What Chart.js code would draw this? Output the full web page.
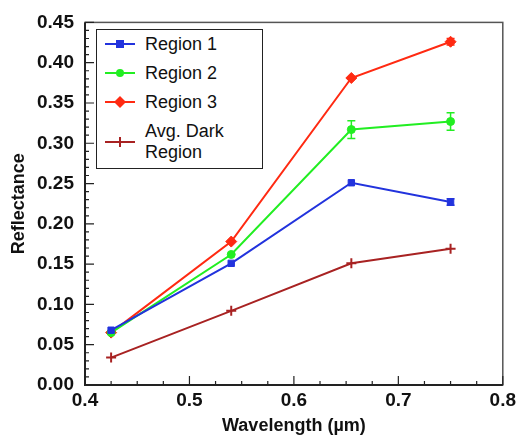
<!DOCTYPE html>
<html>
<head>
<meta charset="utf-8">
<script src="https://cdn.jsdelivr.net/npm/chart.js@4"></script>
<style>
  html, body { margin:0; padding:0; background:#fff; }
  #wrap { position:relative; width:520px; height:438px; font-family:"Liberation Sans", Arial, sans-serif; }
  #legend { position:absolute; left:96px; top:29px; width:165px; height:138px; border:1px solid #222; background:#fff; }
  .row { position:absolute; left:8px; font-size:18px; line-height:21px; color:#111; }
  .row svg { position:absolute; left:0; }
  .row span { position:absolute; left:40px; white-space:nowrap; }
</style>
</head>
<body>
<div id="wrap">
  <canvas id="chart" width="520" height="438"></canvas>
  <div id="legend"></div>
</div>
<script>
// ================= DATOS =================
const wavelengths = [0.425, 0.54, 0.655, 0.75];
const region1 = [0.068, 0.151, 0.251, 0.227];
const region2 = [0.065, 0.162, 0.317, 0.327];
const region3 = [0.065, 0.178, 0.381, 0.426];
const darkRegion = [0.034, 0.092, 0.151, 0.169];
const region1Err = [0.002, 0.002, 0.002, 0.004];
const region2Err = [0.002, 0.003, 0.011, 0.011];
const region3Err = [0.002, 0.003, 0.003, 0.004];
const darkErr = [0.002, 0.002, 0.002, 0.003];
const seriesNames = ["Region 1", "Region 2", "Region 3", "Avg. Dark Region"];
const yTicks = [0, 0.05, 0.10, 0.15, 0.20, 0.25, 0.30, 0.35, 0.40, 0.45];
const xTicks = [0.4, 0.5, 0.6, 0.7, 0.8];

const colors = ["#2233dd", "#22ee22", "#ff2a12", "#a82222"];
const styles = ["rect", "circle", "rectRot", "cross"];
const radii = [4.5, 4, 5.5, 5];
const allValues = [region1, region2, region3, darkRegion];
const allErr = [region1Err, region2Err, region3Err, darkErr];

function toPoints(vals){
  return wavelengths.map((w,i)=>({x:w, y:vals[i]}));
}

// ================= PLUGINS =================
const errorBars = {
  id: "errorBars",
  afterDatasetsDraw(chart){
    const {ctx, scales:{x, y}} = chart;
    ctx.save();
    chart.data.datasets.forEach((ds, d)=>{
      const errs = allErr[d];
      ctx.strokeStyle = ds.borderColor;
      ctx.lineWidth = 1.5;
      ds.data.forEach((p, i)=>{
        const e = errs[i];
        const px = x.getPixelForValue(p.x);
        const y1 = y.getPixelForValue(p.y + e);
        const y2 = y.getPixelForValue(p.y - e);
        if(Math.abs(y2 - y1) < 6) return;
        ctx.beginPath();
        ctx.moveTo(px, y1); ctx.lineTo(px, y2);
        ctx.moveTo(px-4, y1); ctx.lineTo(px+4, y1);
        ctx.moveTo(px-4, y2); ctx.lineTo(px+4, y2);
        ctx.stroke();
      });
    });
    ctx.restore();
  }
};

const frameTicks = {
  id: "frameTicks",
  afterDraw(chart){
    const {ctx, chartArea:a, scales:{x, y}} = chart;
    ctx.save();
    ctx.strokeStyle = "#555";
    ctx.lineWidth = 1.5;
    ctx.strokeRect(a.left, a.top, a.right - a.left, a.bottom - a.top);
    ctx.strokeStyle = "#222";
    ctx.lineWidth = 2;
    ctx.beginPath();
    ctx.moveTo(a.left, a.top); ctx.lineTo(a.left, a.bottom); ctx.lineTo(a.right, a.bottom);
    ctx.stroke();
    ctx.lineWidth = 1.2;
    ctx.beginPath();
    for(let k=0; k<=45; k++){
      const py = y.getPixelForValue(k/100);
      const len = (k % 5 === 0) ? 9 : 4;
      ctx.moveTo(a.left, py); ctx.lineTo(a.left + len, py);
    }
    for(let k=0; k<=16; k++){
      const px = x.getPixelForValue(0.4 + k*0.025);
      const len = (k % 4 === 0) ? 9 : 4;
      ctx.moveTo(px, a.bottom); ctx.lineTo(px, a.bottom - len);
    }
    ctx.stroke();
    ctx.restore();
  }
};

// ================= GRAFICA =================
const ctx = document.getElementById("chart").getContext("2d");
new Chart(ctx, {
  type: "scatter",
  data: {
    datasets: allValues.map((vals, d)=>({
      label: seriesNames[d],
      data: toPoints(vals),
      showLine: true,
      borderColor: colors[d],
      backgroundColor: colors[d],
      borderWidth: 2,
      pointStyle: styles[d],
      pointRadius: radii[d],
      pointBorderWidth: d === 3 ? 2 : 1
    }))
  },
  options: {
    responsive: false,
    animation: false,
    layout: { padding: { top: 21, right: 17, left: 0, bottom: 0 } },
    plugins: { legend: { display: false }, tooltip: { enabled: false } },
    scales: {
      x: {
        type: "linear", min: 0.4, max: 0.8,
        afterBuildTicks: s => { s.ticks = xTicks.map(v=>({value:v})); },
        afterFit: s => { s.height = 53; },
        grid: { display: false, drawTicks: false },
        border: { display: false },
        ticks: { padding: 4, color: "#111", font: { family: "Liberation Sans", size: 19, weight: "bold" },
                 callback: v => v.toFixed(1) },
        title: { display: true, text: "Wavelength (µm)", color: "#111", padding: { top: 0, bottom: 1 },
                 font: { family: "Liberation Sans", size: 18, weight: "bold" } }
      },
      y: {
        type: "linear", min: 0, max: 0.45,
        afterBuildTicks: s => { s.ticks = yTicks.map(v=>({value:v})); },
        afterFit: s => { s.width = 85; },
        grid: { display: false, drawTicks: false },
        border: { display: false },
        ticks: { padding: 11, color: "#111", font: { family: "Liberation Sans", size: 19, weight: "bold" },
                 callback: v => v.toFixed(2) },
        title: { display: true, text: "Reflectance", color: "#111", padding: { top: 8, bottom: 0 },
                 font: { family: "Liberation Sans", size: 18, weight: "bold" } }
      }
    }
  },
  plugins: [errorBars, frameTicks]
});

// ================= LEYENDA =================
function markerSvg(d){
  const c = colors[d];
  let m = "";
  if(styles[d] === "rect") m = `<rect x="11" y="2" width="8" height="8" fill="${c}"/>`;
  else if(styles[d] === "circle") m = `<circle cx="15" cy="6" r="4" fill="${c}"/>`;
  else if(styles[d] === "rectRot") m = `<polygon points="15,0 21,6 15,12 9,6" fill="${c}"/>`;
  else m = `<path d="M15 1 V11 M10 6 H20" stroke="${c}" stroke-width="2"/>`;
  return `<svg width="30" height="12"><line x1="0" y1="6" x2="30" y2="6" stroke="${c}" stroke-width="2"/>${m}</svg>`;
}
const legend = document.getElementById("legend");
const rowTops = [4, 33, 62, 91];
seriesNames.forEach((name, d)=>{
  const row = document.createElement("div");
  row.className = "row";
  row.style.top = rowTops[d] + "px";
  const txt = d === 3 ? "Avg. Dark<br>Region" : name;
  const svgTop = d === 3 ? 15 : 4;
  row.innerHTML = `<svg style="top:${svgTop}px" width="30" height="12"></svg><span>${txt}</span>`;
  row.querySelector("svg").outerHTML = markerSvg(d).replace("<svg ", `<svg style="top:${svgTop}px" `);
  legend.appendChild(row);
});
</script>
</body>
</html>
